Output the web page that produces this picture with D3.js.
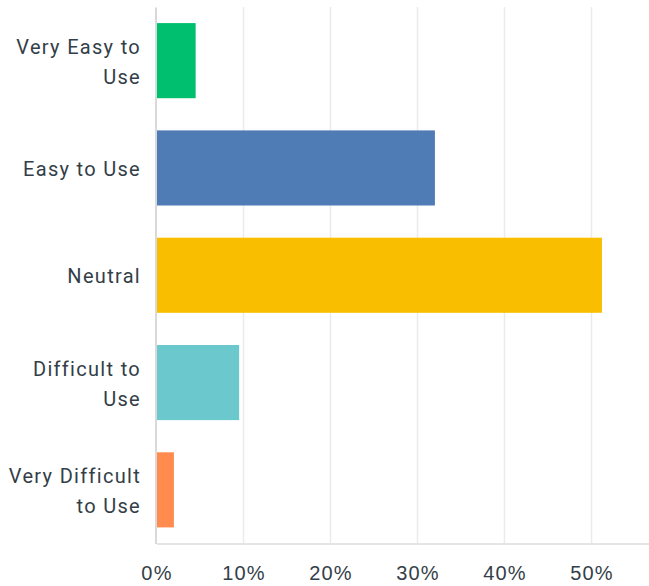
<!DOCTYPE html>
<html>
<head>
<meta charset="utf-8">
<script src="https://cdn.jsdelivr.net/npm/d3@7"></script>
<style>
  body { margin: 0; background: #fff; }
  svg { display: block; font-family: Roboto, "Noto Sans", sans-serif; }
</style>
</head>
<body>
<div id="chart"></div>
<script>
// answer choices, top to bottom
const categories = ['Very Easy to Use', 'Easy to Use', 'Neutral', 'Difficult to Use', 'Very Difficult to Use'];
// label lines as wrapped in the chart
const labelLines = [['Very Easy to', 'Use'], ['Easy to Use'], ['Neutral'], ['Difficult to', 'Use'], ['Very Difficult', 'to Use']];
// percent of respondents
const values = [4.5, 32.0, 51.2, 9.5, 2.0];
const colors = ['#00bf6f', '#507cb6', '#f9be00', '#6bc8cd', '#ff8b4f'];
const xTicks = [0, 10, 20, 30, 40, 50];

const width = 649, height = 586;
const plotLeft = 156.5, plotTop = 7, plotBottom = 543.5;

const svg = d3.select('#chart').append('svg')
  .attr('width', width)
  .attr('height', height);

const x = d3.scaleLinear()
  .domain([0, (width - plotLeft) / 8.7])
  .range([plotLeft, width]);

const y = d3.scaleBand()
  .domain(categories)
  .range([plotTop, plotBottom])
  .paddingInner(0.3)
  .paddingOuter(0.15);

// vertical gridlines
svg.append('g')
  .selectAll('line')
  .data(xTicks.filter(t => t > 0))
  .join('line')
  .attr('x1', d => x(d)).attr('x2', d => x(d))
  .attr('y1', plotTop).attr('y2', plotBottom)
  .attr('stroke', '#ebebeb')
  .attr('stroke-width', 1.5);

// bars
svg.append('g')
  .selectAll('rect')
  .data(categories)
  .join('rect')
  .attr('x', x(0) + 0.5)
  .attr('y', d => y(d))
  .attr('width', (d, i) => x(values[i]) - x(0) - 0.5)
  .attr('height', y.bandwidth())
  .attr('fill', (d, i) => colors[i]);

// bottom axis
const xAxis = svg.append('g')
  .attr('transform', `translate(0,${plotBottom})`)
  .call(d3.axisBottom(x).tickValues(xTicks).tickFormat(d => d + '%').tickSize(0).tickPadding(22));
xAxis.select('.domain').attr('stroke', '#dcdcdc').attr('stroke-width', 1.5);
xAxis.selectAll('text')
  .attr('fill', '#333e48')
  .attr('font-size', 20)
  .attr('font-family', null)
  .attr('letter-spacing', 1.2);

// left axis
const yAxis = svg.append('g')
  .attr('transform', `translate(${plotLeft - 1},0)`)
  .call(d3.axisLeft(y).tickSize(0).tickFormat(''));
yAxis.select('.domain').attr('stroke', '#cccccc').attr('stroke-width', 1.5);

// wrapped category labels
const labels = svg.append('g')
  .selectAll('text')
  .data(categories)
  .join('text')
  .attr('x', 141)
  .attr('y', d => y(d) + y.bandwidth() / 2)
  .attr('text-anchor', 'end')
  .attr('fill', '#333e48')
  .attr('font-size', 20)
  .attr('letter-spacing', 1.3);

labels.each(function (d, i) {
  const lines = labelLines[i];
  const t = d3.select(this);
  lines.forEach((line, j) => {
    t.append('tspan')
      .attr('x', 141)
      .attr('dy', j === 0 ? ((1 - lines.length) * 15 + 8) + 'px' : '30px')
      .text(line);
  });
});
</script>
</body>
</html>
